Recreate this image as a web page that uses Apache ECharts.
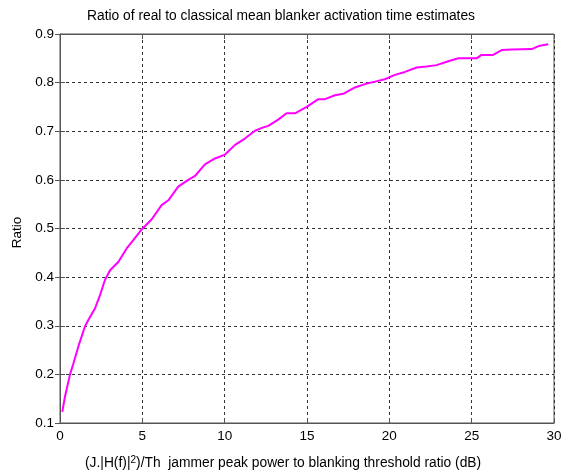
<!DOCTYPE html>
<html>
<head>
<meta charset="utf-8">
<script src="https://cdn.jsdelivr.net/npm/echarts@6/dist/echarts.min.js"></script>
<style>html,body{margin:0;padding:0;background:#fff}#c{width:571px;height:473px}</style>
</head>
<body>
<div id="c"></div>
<script>
const xValues = [0.14,0.30,0.61,0.81,1.11,1.52,1.72,2.13,2.43,2.73,3.04,3.54,4.05,4.45,4.96,5.57,6.17,6.58,7.18,7.79,8.2,8.8,9.41,10.02,10.63,11.23,11.84,12.34,12.65,13.25,13.76,14.27,14.98,15.69,16.09,16.7,17.2,17.91,18.52,19.13,19.73,20.34,20.95,21.66,22.26,22.87,23.58,24.19,25.3,25.6,26.3,26.82,27.43,28.64,29.14,29.65];
const ratioValues = [0.123,0.154,0.20,0.222,0.257,0.299,0.312,0.336,0.363,0.394,0.414,0.431,0.459,0.476,0.498,0.519,0.548,0.558,0.586,0.600,0.608,0.632,0.644,0.652,0.672,0.685,0.701,0.708,0.711,0.724,0.737,0.737,0.750,0.766,0.766,0.774,0.777,0.790,0.797,0.802,0.807,0.816,0.822,0.831,0.833,0.836,0.844,0.850,0.850,0.857,0.857,0.867,0.868,0.869,0.876,0.879];
const xTicks = [0,5,10,15,20,25,30];
const yTicks = [0.1,0.2,0.3,0.4,0.5,0.6,0.7,0.8,0.9];

const FONT = 'Liberation Sans, Arial, sans-serif';
const chart = echarts.init(document.getElementById('c'), null, {renderer: 'canvas'});
const gridLine = {show: true, lineStyle: {color: '#333', type: [3, 3], width: 1}};
const axisLine = {show: true, lineStyle: {color: '#555', width: 1}};
const tick = {show: true, inside: true, length: 5, lineStyle: {color: '#555'}};
chart.setOption({
  animation: false,
  backgroundColor: '#fff',
  title: [
    {text: 'Ratio of real to classical mean blanker activation time estimates', left: 87, top: 9, padding: 0,
     textStyle: {fontFamily: FONT, fontSize: 13.8, fontWeight: 'normal', color: '#000'}},
    {text: '(J.|H(f)|{sup|2})/Th  jammer peak power to blanking threshold ratio (dB)', left: 85, top: 455, padding: 0,
     textStyle: {fontFamily: FONT, fontSize: 13.8, fontWeight: 'normal', color: '#000',
       rich: {sup: {fontFamily: FONT, fontSize: 10, verticalAlign: 'top', color: '#000', padding: [0,0,6,0]}}}}
  ],
  grid: {left: 60, right: 17, top: 34, bottom: 50, show: true, borderColor: '#555', borderWidth: 1},
  xAxis: [{
    type: 'value', min: 0, max: 30, interval: 5,
    axisLine: axisLine, axisTick: tick, splitLine: gridLine,
    axisLabel: {fontFamily: FONT, fontSize: 13.5, color: '#000', margin: 6,
      formatter: v => xTicks.includes(v) ? String(v) : ''}
  }, {
    type: 'value', position: 'top', min: 0, max: 30, interval: 5,
    axisLine: axisLine, axisTick: tick, splitLine: {show: false}, axisLabel: {show: false}
  }],
  yAxis: [{
    type: 'value', min: 0.1, max: 0.9, interval: 0.1,
    name: 'Ratio', nameLocation: 'middle', nameGap: 28, nameRotate: 90,
    nameTextStyle: {fontFamily: FONT, fontSize: 13.5, color: '#000', padding: [0,0,0,-8]},
    axisLine: axisLine, axisTick: tick, splitLine: gridLine,
    axisLabel: {fontFamily: FONT, fontSize: 13.5, color: '#000', margin: 6,
      formatter: v => v.toFixed(1)}
  }, {
    type: 'value', position: 'right', min: 0.1, max: 0.9, interval: 0.1,
    axisLine: axisLine, axisTick: tick, splitLine: {show: false}, axisLabel: {show: false}
  }],
  series: [{
    type: 'line', xAxisIndex: 0, yAxisIndex: 0,
    data: xValues.map((x, i) => [x, ratioValues[i]]),
    showSymbol: false, smooth: false,
    lineStyle: {color: '#ff00ff', width: 2}
  }]
});
</script>
</body>
</html>
